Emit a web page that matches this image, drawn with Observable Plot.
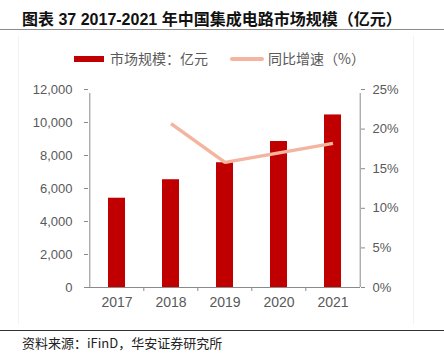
<!DOCTYPE html>
<html>
<head>
<meta charset="utf-8">
<script src="https://cdn.jsdelivr.net/npm/d3@7"></script>
<script src="https://cdn.jsdelivr.net/npm/@observablehq/plot@0.6"></script>
<style>
  html, body { margin: 0; padding: 0; background: #fff; }
  #page { position: relative; width: 444px; height: 357px; overflow: hidden; font-family: "Liberation Sans", Arial, "Noto Sans CJK SC", sans-serif; }
  #title { position: absolute; left: 22px; top: 6px; font-size: 16px; font-weight: bold; color: #111; white-space: nowrap; font-family: "Liberation Sans", Arial, "Noto Sans CJK SC", sans-serif; }
  #titleLine { position: absolute; left: 0; top: 29px; width: 444px; height: 1px; background: #8c8c8c; }
  #frame { position: absolute; left: 18px; top: 36px; width: 394px; height: 288px; border-left: 1px solid #f2f2f2; border-right: 1px solid #f2f2f2; }
  #legend { position: absolute; top: 50px; left: 0; width: 444px; height: 18px; font-size: 14px; color: #595959; font-family: "Noto Sans CJK SC", sans-serif; }
  .sw { position: absolute; }
  .lt { position: absolute; top: 0; line-height: 16px; white-space: nowrap; }
  #chart { position: absolute; left: 0; top: 75px; }
  #footLine { position: absolute; left: 0; top: 330px; width: 444px; height: 1px; background: #333; }
  #foot { position: absolute; left: 22px; top: 333px; font-size: 13px; color: #222; white-space: nowrap; font-family: "Noto Sans CJK SC", sans-serif; }
</style>
</head>
<body>
<div id="page">
  <div id="title"></div>
  <div id="titleLine"></div>
  <div id="frame"></div>
  <div id="legend"></div>
  <div id="chart"></div>
  <div id="footLine"></div>
  <div id="foot"></div>
</div>
<script>
const titleText = "图表 37 2017-2021 年中国集成电路市场规模（亿元）";
const sourceText = "资料来源：iFinD，华安证券研究所";
const years = ["2017", "2018", "2019", "2020", "2021"];
const marketSize = [5411, 6532, 7562, 8848, 10458];
const growthYears = ["2018", "2019", "2020", "2021"];
const growthPct = [20.7, 15.8, 17.0, 18.2];
const leftTicks = [0, 2000, 4000, 6000, 8000, 10000, 12000];
const rightTicks = [0, 5, 10, 15, 20, 25];
const seriesNames = ["市场规模：亿元", "同比增速（%）"];

const barColor = "#C00000";
const lineColor = "#F4B5A0";
const axisColor = "#8a8a8a";
const labelColor = "#595959";
const pctScale = 12000 / 25;

document.getElementById("title").textContent = titleText;
document.getElementById("foot").textContent = sourceText;

const legend = document.getElementById("legend");
legend.innerHTML =
  `<div class="sw" style="left:74px;top:6px;width:30px;height:6px;background:${barColor}"></div>` +
  `<div class="lt" style="left:110px">${seriesNames[0]}</div>` +
  `<div class="sw" style="left:230px;top:7px;width:34px;height:4px;border-radius:2px;background:${lineColor}"></div>` +
  `<div class="lt" style="left:268px">${seriesNames[1]}</div>`;

const bars = years.map((y, i) => ({year: y, value: marketSize[i]}));
const growth = growthYears.map((y, i) => ({year: y, pct: growthPct[i]}));

const W = 444, mL = 88, mR = 84;
const step = (W - mL - mR) / years.length;
const firstYear = years[0], lastYear = years[years.length - 1];

const chart = Plot.plot({
  width: W,
  height: 243,
  marginLeft: mL,
  marginRight: mR,
  marginTop: 14,
  marginBottom: 31,
  style: {fontFamily: "Liberation Sans, Arial, sans-serif", color: labelColor, background: "transparent"},
  x: {domain: years, paddingInner: 0.69, paddingOuter: 0.345, axis: null},
  y: {domain: [0, 12000], axis: null},
  marks: [
    Plot.barY(bars, {x: "year", y: "value", fill: barColor}),
    Plot.line(growth, {x: "year", y: d => d.pct * pctScale, stroke: lineColor, strokeWidth: 3.5, strokeLinejoin: "miter", strokeLinecap: "butt"}),
    // left axis
    Plot.axisY({anchor: "left", ticks: leftTicks, tickFormat: d => d3.format(",")(d), tickSize: 4, tickPadding: 12, stroke: axisColor, fill: labelColor, fontSize: 13, label: null}),
    Plot.ruleX([firstYear], {x: d => d, y1: 0, y2: 12000, insetBottom: -4, dx: -step / 2, stroke: axisColor}),
    // right axis
    Plot.axisY({anchor: "right", ticks: rightTicks.map(d => d * pctScale), tickFormat: d => (d / pctScale) + "%", tickSize: 4, tickPadding: 8, stroke: axisColor, fill: labelColor, fontSize: 13, label: null}),
    Plot.ruleX([lastYear], {x: d => d, y1: 0, y2: 12000, insetBottom: -4, dx: step / 2, stroke: axisColor}),
    // bottom axis
    Plot.ruleY([0], {stroke: axisColor}),
    Plot.ruleX(years.slice(1), {x: d => d, y1: 0, y2: 0, insetBottom: -4, dx: -step / 2, stroke: axisColor}),
    Plot.axisX({ticks: years, tickSize: 0, tickPadding: 10, fill: labelColor, fontSize: 14, label: null})
  ]
});
document.getElementById("chart").appendChild(chart);
</script>
</body>
</html>
